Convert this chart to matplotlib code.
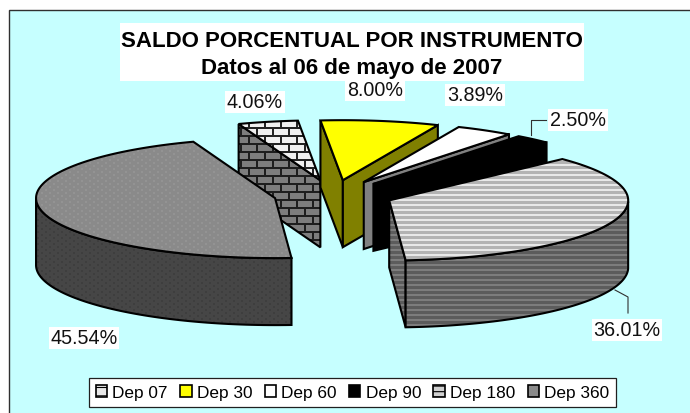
#!/usr/bin/env python3
"""Exploded 3D pie of saldo porcentual por instrumento, drawn in pixel coords."""

import numpy as np
import matplotlib

matplotlib.use("Agg")
import matplotlib.pyplot as plt
from matplotlib.patches import Patch, Polygon, Rectangle

CATEGORIES = ["Dep 07", "Dep 30", "Dep 60", "Dep 90", "Dep 180", "Dep 360"]
SHARES = [4.06, 8.00, 3.89, 2.50, 36.01, 45.54]
LABEL_X = [255, 375, 475, 578, 627, 84]
LABEL_Y = [103, 91, 96, 121, 331, 339]

TITLE = "SALDO PORCENTUAL POR INSTRUMENTO\nDatos al 06 de mayo de 2007"

W, H = 690, 414
CX, CY = 333.5, 196
RX, RY = 239, 60
DEPTH = 67
EXPLODE = 0.25
START_ANGLE = 110.0
BG = "#C6FFFF"

plt.rcParams["font.family"] = ["Liberation Sans", "DejaVu Sans"]
plt.rcParams["hatch.linewidth"] = 0.8


def tile_image(tile):
    """Repeat a small RGB-ish grey tile over the whole canvas."""
    tile = np.asarray(tile, dtype=float) / 255.0
    reps = (H // tile.shape[0] + 1, W // tile.shape[1] + 1)
    return np.tile(tile, reps)[:H, :W]


def brick_tile(brick, mortar):
    tile = np.full((16, 16), brick)
    tile[0:2, :] = mortar
    tile[8:10, :] = mortar
    tile[2:8, 0:2] = mortar
    tile[10:16, 8:10] = mortar
    return tile


def stripe_tile(light, dark):
    return np.array([[light], [light], [dark], [dark], [dark]])


def dots_tile(base, dot):
    tile = np.full((6, 8), base)
    tile[1:3, 1:3] = dot
    tile[4:6, 5:7] = dot
    return tile


# top and side fill per slice: a colour string or a grey tile
TOP_FILLS = [
    brick_tile(240, 35),
    "#FFFF00",
    "#FFFFFF",
    "#000000",
    stripe_tile(232, 180),
    dots_tile(138, 148),
]
SIDE_FILLS = [
    brick_tile(125, 30),
    "#808000",
    "#808080",
    "#000000",
    stripe_tile(125, 92),
    dots_tile(70, 62),
]


def fill_poly(ax, pts, fill, z):
    if isinstance(fill, str):
        ax.add_patch(Polygon(pts, closed=True, fc=fill, ec="black", lw=1.5, zorder=z,
                             joinstyle="miter"))
        return
    outline = Polygon(pts, closed=True, fc="none", ec="black", lw=1.5, zorder=z + 0.5,
                      joinstyle="miter")
    ax.add_patch(outline)
    img = ax.imshow(tile_image(fill), cmap="gray", vmin=0, vmax=1, extent=(0, W, H, 0),
                    interpolation="nearest", aspect="auto", zorder=z)
    img.set_clip_path(outline)


def draw_slice(ax, a1, a2, top, side, z):
    """a1 > a2, degrees, counter-clockwise from east; slice runs clockwise."""
    mid = np.radians((a1 + a2) / 2)
    ax0 = CX + EXPLODE * RX * np.cos(mid)
    ay0 = CY - EXPLODE * RY * np.sin(mid)
    t = np.radians(np.linspace(a1, a2, 120))
    arc = np.column_stack([ax0 + RX * np.cos(t), ay0 - RY * np.sin(t)])
    apex = np.array([ax0, ay0])
    down = np.array([0, DEPTH])

    # radial cut faces that look towards the viewer
    if np.sin(np.radians(a1 + 90)) < 0:
        fill_poly(ax, [apex, arc[0], arc[0] + down, apex + down], side, z)
    if np.sin(np.radians(a2 - 90)) < 0:
        fill_poly(ax, [apex, arc[-1], arc[-1] + down, apex + down], side, z + 1)

    # outer wall, front half of the ellipse only
    front = np.sin(t) <= 0
    if front.any():
        rim = arc[front]
        fill_poly(ax, np.vstack([rim, rim[::-1] + down]), side, z + 2)

    fill_poly(ax, np.vstack([apex, arc]), top, z + 3)


def main():
    fig = plt.figure(figsize=(W / 100, H / 100), dpi=100, facecolor="white")
    ax = fig.add_axes([0, 0, 1, 1])
    ax.set_axis_off()

    ax.add_patch(Rectangle((9, 11), W + 20, H + 20, fc=BG, ec="#303030", lw=1.0, zorder=0))

    angle = START_ANGLE
    z = 2
    for share, top, side in zip(SHARES, TOP_FILLS, SIDE_FILLS):
        sweep = share / sum(SHARES) * 360.0
        draw_slice(ax, angle, angle - sweep, top, side, z)
        angle -= sweep
        z += 5

    # leader lines for the two labels set off from their slices
    ax.plot([531, 531, 546], [136, 121, 121], color="#303030", lw=0.8, zorder=50)
    ax.plot([615, 628, 628], [291, 298, 314], color="#303030", lw=0.8, zorder=50)

    for x, y, share in zip(LABEL_X, LABEL_Y, SHARES):
        ax.text(x, y, "%.2f%%" % share, fontsize=14.2, color="#111111", ha="center",
                va="center", zorder=60,
                bbox=dict(fc="white", ec="none", boxstyle="square,pad=0.08"))

    ax.add_patch(Rectangle((120, 24), 464, 58, fc="white", ec="none", zorder=69))
    ax.text(352, 55, TITLE, fontsize=16, fontweight="bold", ha="center", va="center",
            linespacing=1.38, zorder=70)

    handles = [
        Patch(fc="#E8E8E8", ec="black", lw=1.2, hatch="--"),
        Patch(fc="#FFFF00", ec="black", lw=1.2),
        Patch(fc="#FFFFFF", ec="black", lw=1.2),
        Patch(fc="#000000", ec="black", lw=1.2),
        Patch(fc="#D0D0D0", ec="black", lw=1.2, hatch="---"),
        Patch(fc="#8A8A8A", ec="black", lw=1.2),
    ]
    leg = ax.legend(handles, CATEGORIES, ncol=6, loc="center", fontsize=12.4,
                    bbox_to_anchor=(352.5 / W, 1 - 393.5 / H), fancybox=False,
                    framealpha=1, edgecolor="#202020", facecolor="white",
                    handlelength=0.66, handleheight=0.66, handletextpad=0.3,
                    columnspacing=0.72, borderpad=0.4, borderaxespad=0)
    leg.set_zorder(80)
    leg.get_frame().set_linewidth(0.9)

    ax.set_xlim(0, W)
    ax.set_ylim(H, 0)
    fig.savefig("out.png", dpi=100)
    plt.close(fig)


if __name__ == "__main__":
    main()
